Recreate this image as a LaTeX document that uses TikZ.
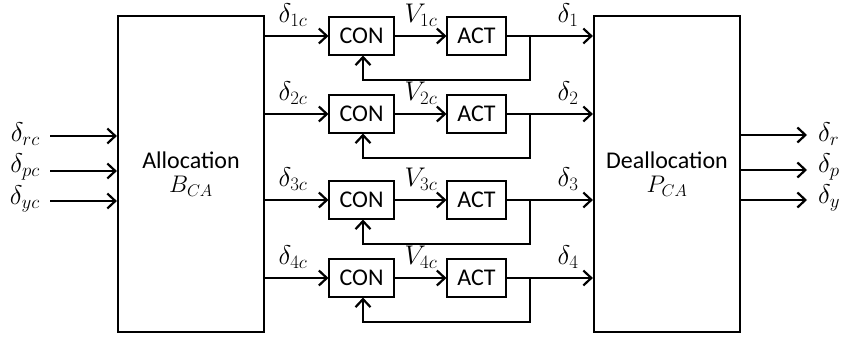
\RequirePackage{fix-cm}
\documentclass[tikz,border=0pt]{standalone}
\usepackage{fontspec}
\setmainfont{Carlito}
\usetikzlibrary{arrows.meta,calc}
\begin{document}
\begin{tikzpicture}[x=1pt,y=-1pt,
  every node/.style={font=\fontsize{24}{28}\selectfont},
  bigbox/.style={draw,line width=2.2pt,minimum width=146pt,minimum height=316pt,inner sep=0pt,align=center},
  conbox/.style={draw,line width=1.1pt,minimum width=65pt,minimum height=38pt,inner sep=0pt},
  actbox/.style={draw,line width=1.1pt,minimum width=59pt,minimum height=38pt,inner sep=0pt},
  wire/.style={line width=2.2pt},
  arr/.style={line width=2.2pt,-{Straight Barb[length=8pt,width=15pt,line width=2.2pt]}},
  lbl/.style={inner sep=0pt,font=\fontsize{27}{30}\selectfont}]
\useasboundingbox (0,0) rectangle (848,337);
\node[bigbox] (alloc) at (191,174) {Allocation\\[-4pt]$B_{CA}$};
\node[bigbox] (deall) at (667,174) {Deallocation\\[-4pt]$P_{CA}$};
% inputs
\coordinate (r0) at (50,136);
\coordinate (p0) at (50,171);
\coordinate (y0) at (50,201);
\draw[arr] (r0) -- (alloc.west |- r0);
\draw[arr] (p0) -- (alloc.west |- p0);
\draw[arr] (y0) -- (alloc.west |- y0);
\node[lbl,anchor=east] (lr) at (40,134) {$\delta_{rc}$};
\node[lbl,anchor=east] (lp) at (40,167) {$\delta_{pc}$};
\node[lbl,anchor=east] (ly) at (40,199) {$\delta_{yc}$};
% outputs
\coordinate (r1) at (807,135);
\coordinate (p1) at (807,170);
\coordinate (y1) at (807,200);
\draw[arr] (deall.east |- r1) -- (r1);
\draw[arr] (deall.east |- p1) -- (p1);
\draw[arr] (deall.east |- y1) -- (y1);
\node[lbl,anchor=west] (or) at (818,134) {$\delta_{r}$};
\node[lbl,anchor=west] (op) at (818,167) {$\delta_{p}$};
\node[lbl,anchor=west] (oy) at (818,198) {$\delta_{y}$};
% channels
\foreach \i/\yy in {1/36,2/114,3/200,4/278}{
  \node[conbox] (con\i) at (361.5,\yy) {CON};
  \node[actbox] (act\i) at (476.5,\yy) {ACT};
  \coordinate (j\i) at (530,\yy);
  \coordinate (f\i) at (530,\yy+44);
  \draw[arr] (alloc.east |- con\i) -- (con\i.west);
  \draw[arr] (con\i.east) -- (act\i.west);
  \draw[wire] (act\i.east) -- (j\i);
  \draw[arr] (j\i) -- (deall.west |- j\i);
  \draw[arr] (j\i) -- (f\i) -| ([xshift=1.5pt]con\i.south);
  \node[lbl] (dc\i) at (293,\yy-21) {$\delta_{\i c}$};
  \node[lbl] (v\i) at (421,\yy-21) {$V_{\i c}$};
  \node[lbl] (d\i) at (568,\yy-21) {$\delta_{\i}$};
}
\end{tikzpicture}
\end{document}
